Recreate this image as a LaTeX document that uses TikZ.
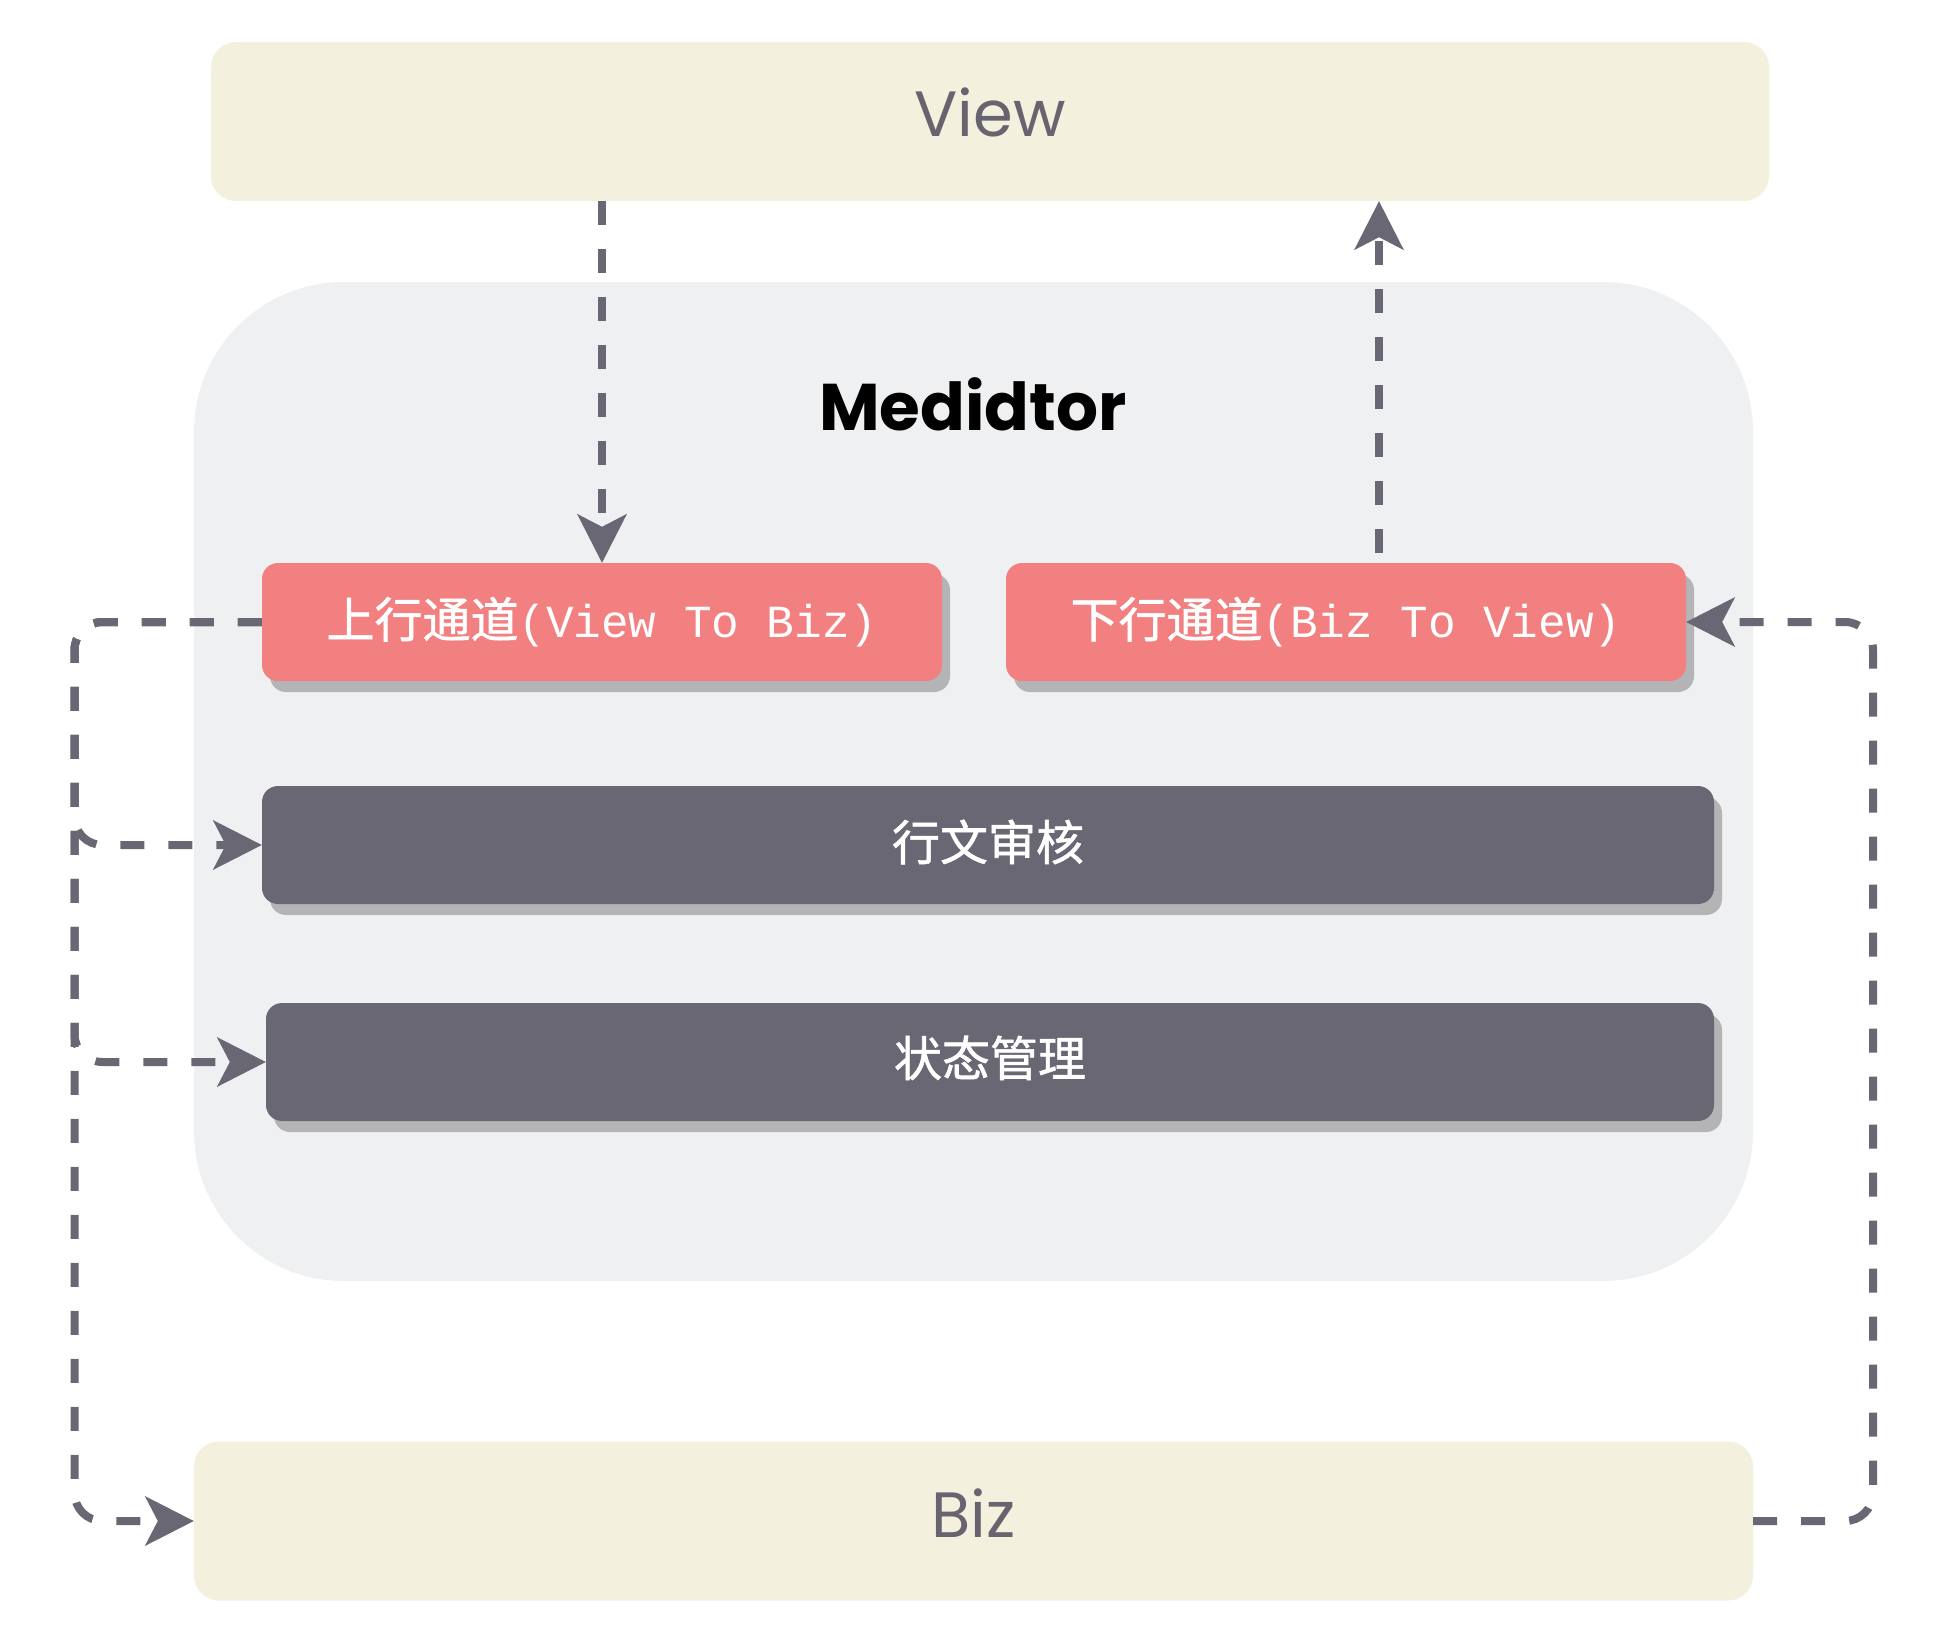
\documentclass[tikz,border=0pt]{standalone}
\usepackage{fontspec}
\setmainfont{Poppins}
\newfontfamily\cjk[FakeBold=1.2]{Noto Sans CJK SC}
\newfontfamily\mono{Liberation Mono}
\usetikzlibrary{arrows.meta,shadows}
\definecolor{beige}{HTML}{F3F0DD}
\definecolor{medbg}{HTML}{EFF0F2}
\definecolor{redbox}{HTML}{F28080}
\definecolor{darkbox}{HTML}{6A6775}
\definecolor{shadowc}{HTML}{B4B4B7}
\definecolor{txtgray}{HTML}{67646F}
\definecolor{linec}{HTML}{6A6775}
\begin{document}
\begin{tikzpicture}[x=1pt,y=-1pt,
  layer/.style={fill=beige, rounded corners=25pt, minimum width=1558pt, minimum height=159pt, inner sep=0pt, text=txtgray, font=\fontsize{64}{76}\selectfont},
  medbox/.style={fill=medbg, rounded corners=150pt, minimum width=1559pt, minimum height=999pt, inner sep=0pt},
  chan/.style={fill=redbox, rounded corners=16pt, minimum width=680pt, minimum height=118pt, inner sep=0pt, text=white, drop shadow={shadow xshift=8pt, shadow yshift=-11pt, fill=shadowc, opacity=1}},
  modbox/.style={fill=darkbox, rounded corners=16pt, minimum height=118pt, inner sep=0pt, text=white, font=\cjk\fontsize{48}{56}\selectfont, drop shadow={shadow xshift=8pt, shadow yshift=-11pt, fill=shadowc, opacity=1}},
  conn/.style={draw=linec, line width=8pt, dash pattern=on 24pt off 24pt, rounded corners=28pt, -{Stealth[length=49pt,width=50pt,inset=13pt,line width=0pt]}},
]
\useasboundingbox[fill=white] (0,0) rectangle (1948,1640);
\node[medbox] (med) at (973.5,781.5) {};
\node[font=\bfseries\fontsize{66}{78}\selectfont, text=black] (title) at (973,404) {Medidtor};
\node[layer] (view) at (990,121.5) {\raisebox{18pt}{View}};
\node[layer, minimum width=1559pt] (biz) at (973.5,1521) {\raisebox{16pt}{Biz}};
\node[chan] (up) at (602,622) {\raisebox{8pt}{{\cjk\fontsize{48}{56}\selectfont 上行通道}{\mono\fontsize{46}{56}\selectfont (View To Biz)}}};
\node[chan] (down) at (1346,622) {\raisebox{8pt}{{\cjk\fontsize{48}{56}\selectfont 下行通道}{\mono\fontsize{46}{56}\selectfont (Biz To View)}}};
\node[modbox, minimum width=1452pt] (audit) at (988,845) {\raisebox{10pt}{行文审核}};
\node[modbox, minimum width=1448pt] (state) at (990,1062) {\raisebox{12pt}{状态管理}};
\coordinate (lx) at (74.5,0);
\coordinate (rx) at (1873,0);
\coordinate (vup) at (1379,553);
\draw[conn] (up.north |- view.south) -- (up.north);
\draw[conn] (vup) -- (vup |- view.south);
\draw[conn] (up.west) -| (lx |- audit.west) -- (audit.west);
\draw[conn] (up.west) -| (lx |- state.west) -- (state.west);
\draw[conn] (up.west) -| (lx |- biz.west) -- (biz.west);
\draw[conn] (biz.east) -| (rx |- down.east) -- (down.east);
\end{tikzpicture}
\end{document}
